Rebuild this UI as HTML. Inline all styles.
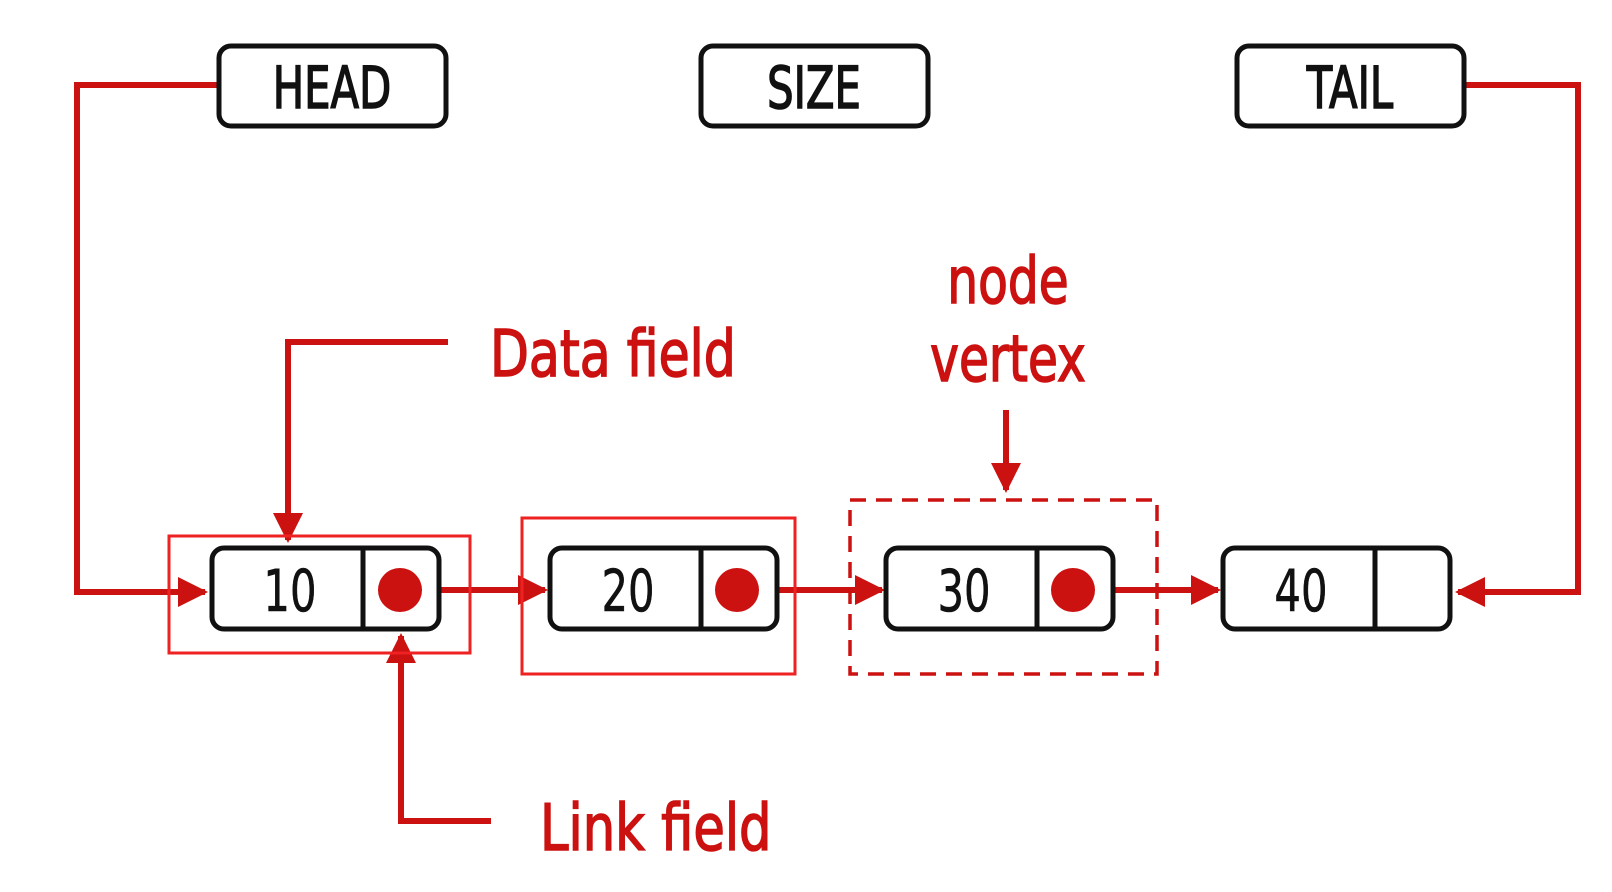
<!DOCTYPE html>
<html><head><style>
html,body{margin:0;padding:0;background:#fff;}
svg{display:block}
.b{font-family:"DejaVu Sans","Liberation Sans",sans-serif;}
</style></head><body>
<svg width="1612" height="892" viewBox="0 0 1612 892" xmlns="http://www.w3.org/2000/svg">
<defs>
<marker id="a" viewBox="0 0 10 10" refX="9" refY="5" markerWidth="5" markerHeight="5" orient="auto" markerUnits="strokeWidth">
<path d="M0,0 L10,5 L0,10 z" fill="#cc1111"/></marker>
</defs>
<g fill="none" stroke="#cc1111" stroke-width="6">
<polyline points="219,85 77,85 77,592 205,592" marker-end="url(#a)"/>
<polyline points="1464,85 1578,85 1578,592 1458,592" marker-end="url(#a)"/>
<polyline points="448,342 288,342 288,540" marker-end="url(#a)"/>
<polyline points="491,821 401,821 401,636" marker-end="url(#a)"/>
<line x1="1006" y1="410" x2="1006" y2="490" marker-end="url(#a)"/>
<line x1="400" y1="590" x2="545" y2="590" marker-end="url(#a)"/>
<line x1="737" y1="590" x2="882" y2="590" marker-end="url(#a)"/>
<line x1="1073" y1="590" x2="1218" y2="590" marker-end="url(#a)"/>
</g>
<g fill="none" stroke="#ee2222" stroke-width="3">
<rect x="169" y="536" width="301" height="117"/>
<rect x="522" y="518" width="273" height="156"/>
<rect x="850" y="500" width="307" height="174" stroke="#cc1111" stroke-dasharray="16,10" stroke-width="3.5"/>
</g>
<g fill="#fff" stroke="#111" stroke-width="5">
<rect x="219" y="46" width="227" height="80" rx="12"/>
<rect x="701" y="46" width="227" height="80" rx="12"/>
<rect x="1237" y="46" width="227" height="80" rx="12"/>
<rect x="212" y="548" width="227" height="81" rx="12"/>
<rect x="550" y="548" width="227" height="81" rx="12"/>
<rect x="886" y="548" width="227" height="81" rx="12"/>
<rect x="1223" y="548" width="227" height="81" rx="12"/>
<line x1="363" y1="548" x2="363" y2="629"/>
<line x1="701" y1="548" x2="701" y2="629"/>
<line x1="1037" y1="548" x2="1037" y2="629"/>
<line x1="1375" y1="548" x2="1375" y2="629"/>
</g>
<g fill="#cc1111">
<circle cx="400" cy="590" r="22"/><circle cx="737" cy="590" r="22"/><circle cx="1073" cy="590" r="22"/>
</g>
<g class="b" font-size="58" text-anchor="middle" fill="#111" stroke="#111" stroke-width="1.6">
<text x="332" y="108" transform="translate(332 0) scale(0.72 1) translate(-332 0)">HEAD</text>
<text x="814" y="108" transform="translate(814 0) scale(0.72 1) translate(-814 0)">SIZE</text>
<text x="1350" y="108" transform="translate(1350 0) scale(0.72 1) translate(-1350 0)">TAIL</text>
</g>
<g class="b" font-size="58" text-anchor="middle" fill="#111" stroke="#111" stroke-width="0.6">
<text x="290" y="611" transform="translate(290 0) scale(0.72 1) translate(-290 0)">10</text>
<text x="628" y="611" transform="translate(628 0) scale(0.72 1) translate(-628 0)">20</text>
<text x="964" y="611" transform="translate(964 0) scale(0.72 1) translate(-964 0)">30</text>
<text x="1301" y="611" transform="translate(1301 0) scale(0.72 1) translate(-1301 0)">40</text>
</g>
<g class="b" font-size="64" fill="#cc1111" stroke="#cc1111" stroke-width="1.6">
<text x="490" y="376" transform="translate(490 0) scale(0.79 1) translate(-490 0)">Data field</text>
<text x="540" y="850" transform="translate(540 0) scale(0.8 1) translate(-540 0)">Link field</text>
<text x="1008" y="303" text-anchor="middle" transform="translate(1008 0) scale(0.76 1) translate(-1008 0)">node</text>
<text x="1008" y="381" text-anchor="middle" transform="translate(1008 0) scale(0.76 1) translate(-1008 0)">vertex</text>
</g>
</svg>
</body></html>
